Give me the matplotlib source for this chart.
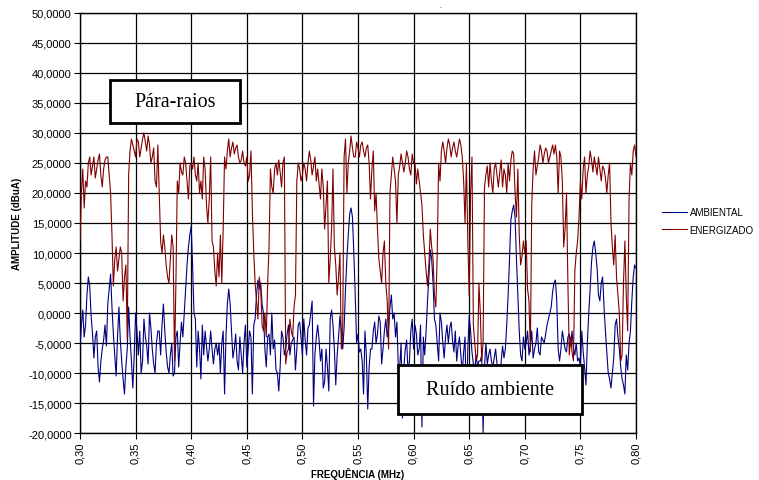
import numpy as np
import matplotlib
matplotlib.use('Agg')
import matplotlib.pyplot as plt
from matplotlib.patches import Rectangle

plt.rcParams['font.family'] = ['Liberation Sans', 'DejaVu Sans']

# frequencia (MHz): grade de 0.00125 (pontos principais a cada 0.0025 + intermediarios)
freq = np.round(0.30 + 0.00125 * np.arange(401), 5)

# AMBIENTAL (dBuA) - pontos principais (0.30, 0.3025, ...)
amb_principal = [
    -5.5, 0.5, -2, 6, -0.5, -7.5, -3, -11.5, -6, -2,
    1.5, 6.5, -3.5, -10.5, 1, -8, -13.5, -6, -4, -12.5,
    0, -7, -10, -1, -5.5, 0, -6, -10, -3, -7,
    1.5, -6.5, -10, -5, -10, -3, -5, -4, 4, 11,
    14.5, 0, -9, -6, -2, -3, -8, -3, -8.5, -5,
    -5, -5, -13.5, 1.5, 1.5, -7.5, -3.5, -9.5, -7, -5,
    -9, -3, -13.5, -1, 5.5, 5, 0, -9, -3.5, 0,
    -4.5, -10, -9, -4, -6, -2, -5, -4, -6, -1.5,
    -7, -4.5, -2.5, 0, -15.5, -4, -4.5, -6, -11.5, -9,
    -1, -2, -12, -4, -3, -2.5, 9, 16.5, 16, 3,
    -3.5, -6, -13.5, -7, -9, -6, -1.5, -3.5, -1.5, -6,
    -1, -2.5, 3, 0, -1.5, -9, -17.5, -6, -10, -3,
    -6, -3.5, -6, -19, -7, 2, 10.5, 5, -2, -8,
    -1.5, -7.5, -2, -2.5, -4.5, -3, -5.5, -7, -6.5, -17,
    -0.5, -6.5, -9.5, -9, -8, -20, -5, -7, -8, -7.5,
    -8.5, -17, -5.5, -6, 3, 15.5, 18, 9, -3, -8,
    -6, -3, -5.5, -7.5, -5, -6.5, -4, -5, -2, 0,
    3.5, 5.5, -6, -6, -4.5, -6.5, -3.5, -3, -7, -8,
    -9, -6.5, -12, 0, 8.5, 12, 7.5, 2, 6, -3,
    -10, -12.5, -7.5, -1, -6, -11, -13.5, -9.5, -3, 6,
    7.5,
]
# AMBIENTAL - pontos intermediarios (0.30125, 0.30375, ...)
amb_intermed = [
    -2, -4, 3, 4.5, -3.5, -4, -9, -8, -4.5, -5.5,
    4, 1, -7, -4, -4.5, -11, -9, 1, -8, -7,
    -3, -3, -8, -4, -8.5, -2.5, -8.5, -5, -3, -2,
    -3, -9, -7, -10.5, -4, -9, -1.5, 0, 8, 13,
    8, -1, -3, -11, -7, -5.5, -6, -6, -6, -7,
    -10, -3, -4, 4, -3, -6, -8, -4, -10, -2,
    -6, -4, -2, 3, 4, 1.5, -6, -4, -7, -6,
    -9.5, -13, -3, -7, -3.5, -7, -4.5, -9.5, -2, -4,
    -1, -7, -2, 2, -7, -2, -8, -12.5, -6, -13,
    0.5, -6, -7, -0.5, -6, 4, 13, 17.5, 10, -5,
    -6.5, -8, -3, -16, -6, -3, -5, -0.5, -8.5, -3,
    -4, 1, -1, -4, -9, -5, -9, -4.5, -8, -1,
    -2, -7, -2, -4, -3, 6, 9, -1, -5, 0,
    -5, -4, -5, -1.5, -6.5, -8, -4, -10, -4, -6,
    -3, -8.5, -7, -8, -7, -9, -8.5, -6, -9, -6,
    -9, -8, -7.5, -2, 9, 17, 16, 3, -7, -4,
    -5, -7, -3, -6, -2.5, -7, -4.5, -3.5, -1, 1,
    5, 2, -8, -3, -6, -4, -5.5, -6, -5, -7.5,
    -3, -9, -5, 4, 11, 10, 3, 5, 1, -6.5,
    -11, -10, -2, -4, -9, -12, -7, -5, 2, 8,
]

# ENERGIZADO (dBuA) - pontos principais
ene_principal = [
    12, 24, 22, 25, 23, 26, 24, 26.5, 21, 25.5,
    26, 20, 4.5, 11, 9, 10, 6, -4.5, 27, 28,
    26, 28.5, 27.5, 30, 27, 28, 26, 22, 28, 12,
    13, 8, 5, 13, -8, 22, 25, 23, 25, 19,
    25, 26, 22, 20, 19, 24, 15, 26, 11, 4.5,
    6, 5, 26, 27, 26, 28.5, 27.5, 26, 25.5, 25,
    26, 23, 17, 5, -1, 4, -3, -4, 11, 21,
    24, 23, 23.5, 25, -8.5, -6, -3, 1, 22, 24,
    23, 24, 25, 25.5, 24.5, 22, 21.5, 24, 14, 22,
    9, 24, 8, 6, -6, 26, 20, 27, 27.5, 26,
    27.5, 28, 27, 27.5, 25, 24, 17, 14, 7, 10,
    5, -6, 23, 24, 15, 24.5, 25, 25, 26, 23,
    25, 21.5, 22, 18, 10, 4.5, 14, 9, 1, 25,
    27, 27, 27.5, 28, 27.5, 27, 27.5, 28, 22, 25,
    3, 26, -5, -7, 0, -5, 23, 21, 22, 24,
    23, 23.5, 21, 23, 25, 25.5, 26.5, 16, 13, 9.5,
    10, 4, -6.5, 24, 23, 26, 27, 26.5, 27, 26,
    28, 28, 20, 26, 11, 20, -7, -6.5, 7, 12,
    22, 24, 20, 24.5, 25.5, 26, 23, 24, 24.5, 22.5,
    23, 15, 8, 6, 0, -7, 12, -3, 25, 27,
    26,
]
# ENERGIZADO - pontos intermediarios
ene_intermed = [
    20, 17.5, 21, 26, 24.5, 22.5, 25.5, 23, 24, 26,
    23, 13, 9, 7, 11, 2, 8, 23, 29, 27,
    29, 26, 29, 28.5, 29.5, 25, 27.5, 21, 20, 10,
    11, 6, 9, 11, 5, 20, 23.5, 26, 22, 24.5,
    24, 23, 25, 22, 26, 18, 19, 12, 7, 10,
    13, 14, 24, 29, 27.5, 26.5, 28, 25, 27, 24.5,
    22, 27, 10, 2, 6, -2, 0, 5, 24, 20,
    25, 25.5, 21, 26, -6.5, -1, -4, 3, 25, 22,
    25, 22, 27, 23, 26, 24, 19, 21, 18, 5,
    14, 11, 3, 10, -3, 29, 25, 29.5, 26, 28.5,
    26, 28.5, 26, 28, 19, 27, 20, 9, 5, 12,
    2, 20, 26, 22, 23, 26.5, 23.5, 27, 24, 26.5,
    25, 24, 20, 13, 7, 8, 11, 3, 10, 22,
    28.5, 25, 29, 26, 28.5, 26, 29, 26, 15, 12,
    20, -2, -8, 5, -8, 21, 24.5, 25, 20, 25,
    21, 25.5, 24, 20, 22, 27, 20, 24, 8, 12,
    12, 2, 18, 27, 24.5, 28, 25, 27.5, 25, 27,
    26.5, 26, 27, 22, 14, 5, -4, -8, 10, 16,
    19, 26, 23, 27, 23.5, 24.5, 26, 22, 24, 20,
    25, 11, 13, 3, -8, 5, 3, 19, 23, 28,
]

x_ticks = np.round(np.arange(0.30, 0.801, 0.05), 2)
y_ticks = np.arange(-20, 51, 5)

ambiental = np.empty(len(freq))
ambiental[0::2] = amb_principal
ambiental[1::2] = amb_intermed
energizado = np.empty(len(freq))
energizado[0::2] = ene_principal
energizado[1::2] = ene_intermed

W, H = 759, 481
fig = plt.figure(figsize=(W / 100, H / 100), dpi=100)
ax = fig.add_axes([80 / W, 1 - 434 / H, 556 / W, 420 / H])

ax.plot(freq, ambiental, color='#000080', lw=0.8, label='AMBIENTAL', zorder=3)
ax.plot(freq, energizado, color='#800000', lw=0.8, label='ENERGIZADO', zorder=3)

ax.set_xlim(0.30, 0.80)
ax.set_ylim(-20, 50)
ax.set_xticks(x_ticks)
ax.set_xticklabels([f'{v:.2f}'.replace('.', ',') for v in x_ticks], rotation=90, fontsize=8)
ax.set_yticks(y_ticks)
ax.set_yticklabels([f'{v:.4f}'.replace('.', ',') for v in y_ticks], fontsize=8)
ax.grid(True, color='black', lw=0.9, zorder=1)
ax.set_axisbelow(True)
ax.tick_params(direction='out', length=4, width=0.8, pad=2)
for s in ax.spines.values():
    s.set_linewidth(1.0)

ax.set_xlabel('FREQUÊNCIA (MHz)', fontsize=7, fontweight='bold', labelpad=3)
ax.set_ylabel('AMPLITUDE (dBuA)', fontsize=7, fontweight='bold', labelpad=4)

fig.legend(loc='center left', bbox_to_anchor=(657 / W, 1 - 222 / H), frameon=False,
           fontsize=7, handlelength=2.6, handletextpad=0.25, labelspacing=0.75,
           borderpad=0)

# caixas de texto
def caixa(x0, y0, x1, y1, texto):
    r = Rectangle((x0 / W, 1 - y1 / H), (x1 - x0) / W, (y1 - y0) / H,
                  transform=fig.transFigure, fc='white', ec='black', lw=2, zorder=5)
    fig.add_artist(r)
    fig.text((x0 + x1) / 2 / W, 1 - (y0 + y1) / 2 / H, texto, ha='center', va='center',
             fontsize=14.5, family='Liberation Serif', zorder=6)

caixa(110, 81, 240, 124, 'Pára-raios')
caixa(398, 366, 582, 415, 'Ruído ambiente')

fig.text(441 / W, 1 - 8 / H, '-', fontsize=4, ha='center', va='center')

fig.savefig('out.png', dpi=100)
